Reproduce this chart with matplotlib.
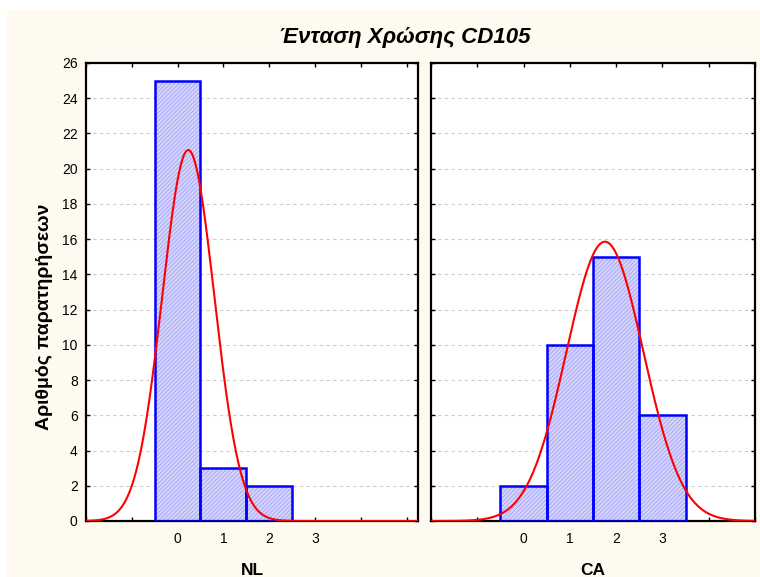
import matplotlib
matplotlib.use("Agg")
import matplotlib.pyplot as plt
import numpy as np

# histogram values (class centres and counts)
CLASSES = [0, 1, 2, 3]
NL_COUNTS = [25, 3, 2, 0]
CA_COUNTS = [2, 10, 15, 6]
GROUPS = ["NL", "CA"]
TITLE = "Ένταση Χρώσης CD105"
YLABEL = "Αριθμός παρατηρήσεων"

BG = "#fffaf0"
FILL = "#d4d4ff"
HATCH = "#9a9aee"
EDGE = "#0000ff"

plt.rcParams["font.family"] = ["Liberation Sans", "DejaVu Sans"]
plt.rcParams["hatch.linewidth"] = 0.5


def fitted_normal(counts, xs):
    vals = np.repeat(CLASSES, counts)
    n = len(vals)
    mu = vals.mean()
    sd = vals.std(ddof=1)
    return n / (sd * np.sqrt(2 * np.pi)) * np.exp(-0.5 * ((xs - mu) / sd) ** 2)


def main():
    fig = plt.figure(figsize=(7.6, 5.77), dpi=100, facecolor="white")
    fig.patches.append(plt.Rectangle((7 / 760, 0), 1, 1 - 10 / 577,
                                     transform=fig.transFigure,
                                     facecolor=BG, edgecolor="none", zorder=-10))

    ax1 = fig.add_axes([86 / 760, 1 - 521 / 577, 332 / 760, 458 / 577])
    ax2 = fig.add_axes([431 / 760, 1 - 521 / 577, 324 / 760, 458 / 577])
    xlims = [(-2.0, 5.25), (-2.0, 5.0)]

    for ax, counts, name, xl in zip([ax1, ax2], [NL_COUNTS, CA_COUNTS], GROUPS, xlims):
        ax.set_facecolor("white")
        ax.bar(CLASSES, counts, width=1.0, color=FILL, hatch="////////",
               edgecolor=HATCH, linewidth=0, zorder=2)
        ax.bar(CLASSES, counts, width=1.0, fill=False, edgecolor=EDGE,
               linewidth=1.8, zorder=3)
        xs = np.linspace(xl[0], xl[1], 400)
        ax.plot(xs, fitted_normal(counts, xs), color="red", linewidth=1.5, zorder=4)

        ax.set_xlim(*xl)
        ax.set_ylim(0, 26)
        ax.set_yticks(range(0, 27, 2))
        ax.set_xticks(range(-2, 6))
        ax.set_xticklabels(["", ""] + [str(c) for c in CLASSES] + ["", ""])
        ax.tick_params(direction="in", length=3, width=1, top=True, right=True,
                       labelsize=10)
        ax.tick_params(axis="x", pad=8)
        ax.tick_params(axis="y", pad=6)
        ax.yaxis.grid(True, linestyle=(0, (3, 3)), color="#cccccc", linewidth=0.8)
        ax.set_axisbelow(True)
        for s in ax.spines.values():
            s.set_linewidth(1.6)
        ax.text(0.5, -0.107, name, transform=ax.transAxes, ha="center", va="center",
                fontsize=12.5, fontweight="bold")

    ax2.tick_params(axis="y", labelleft=False)
    fig.text(45 / 760, 1 - 317 / 577, YLABEL, rotation=90, ha="center", va="center",
             fontsize=14, fontweight="bold")

    fig.text(405 / 760, 1 - 37 / 577, TITLE, ha="center", va="center",
             fontsize=16, fontweight="bold", fontstyle="italic")

    fig.savefig("out.png", dpi=100, facecolor=fig.get_facecolor())


if __name__ == "__main__":
    main()
